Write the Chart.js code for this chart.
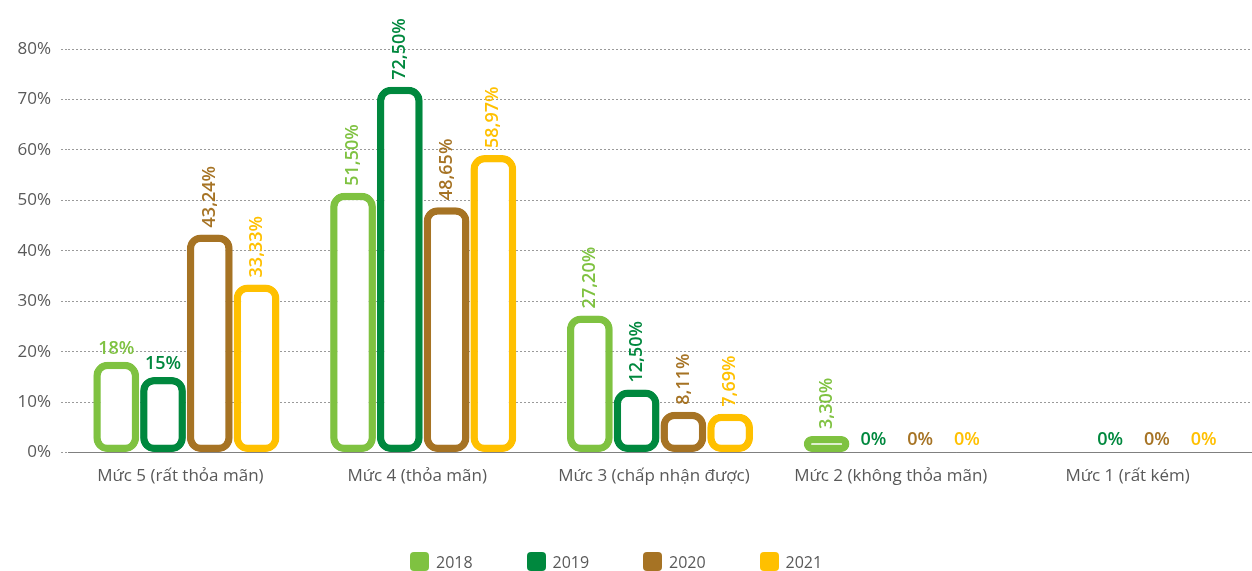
<!DOCTYPE html>
<html>
<head>
<meta charset="utf-8">
<script src="https://cdn.jsdelivr.net/npm/chart.js@4.4.1/dist/chart.umd.min.js"></script>
<style>
  html, body { margin: 0; padding: 0; background: #fff; }
  #wrap { position: relative; width: 1252px; height: 571px; }
  #legend { position: absolute; left: 410px; top: 552px; display: flex; font: 16px 'Open Sans', sans-serif; color: #595959; }
  .item { display: flex; align-items: center; width: 116.5px; height: 19px; }
  .box { width: 19px; height: 19px; border-radius: 4px; margin-right: 7px; }
</style>
</head>
<body>
<div id="wrap">
  <canvas id="chart" width="1252" height="571"></canvas>
  <div id="legend"></div>
</div>
<script>
// --- data ---
const categories = ['Mức 5 (rất thỏa mãn)', 'Mức 4 (thỏa mãn)', 'Mức 3 (chấp nhận được)', 'Mức 2 (không thỏa mãn)', 'Mức 1 (rất kém)'];
const years = ['2018', '2019', '2020', '2021'];
const values2018 = [18, 51.5, 27.2, 3.3, null];
const values2019 = [15, 72.5, 12.5, 0, 0];
const values2020 = [43.24, 48.65, 8.11, 0, 0];
const values2021 = [33.33, 58.97, 7.69, 0, 0];
const yMax = 80;
const yStep = 10;

const colors = ['#7fc241', '#00883e', '#a67324', '#ffc000'];
const seriesValues = [values2018, values2019, values2020, values2021];

Chart.defaults.font.family = "'Open Sans', sans-serif";
Chart.defaults.font.size = 17;
Chart.defaults.color = '#595959';

// value labels above bars (decimals rotated, whole numbers flat)
const valueLabels = {
  id: 'valueLabels',
  afterDatasetsDraw(chart) {
    const ctx = chart.ctx;
    chart.data.datasets.forEach((ds, i) => {
      chart.getDatasetMeta(i).data.forEach((bar, j) => {
        const v = ds.data[j];
        if (v === null || v === undefined) return;
        ctx.save();
        ctx.fillStyle = colors[i];
        ctx.font = '600 18px "Open Sans", sans-serif';
        if (Number.isInteger(v)) {
          ctx.textAlign = 'center';
          ctx.textBaseline = 'alphabetic';
          ctx.fillText(v + '%', bar.x, bar.y - 8);
        } else {
          ctx.translate(bar.x, bar.y - 7);
          ctx.rotate(-Math.PI / 2);
          ctx.textAlign = 'left';
          ctx.textBaseline = 'middle';
          ctx.fillText(v.toFixed(2).replace('.', ',') + '%', 0, 0);
        }
        ctx.restore();
      });
    });
  }
};

new Chart(document.getElementById('chart'), {
  type: 'bar',
  data: {
    labels: categories,
    datasets: years.map((y, i) => ({
      label: y,
      data: seriesValues[i],
      backgroundColor: '#ffffff',
      borderColor: colors[i],
      borderWidth: 7.5,
      borderRadius: 14,
      borderSkipped: false,
      categoryPercentage: 0.79,
      barPercentage: 0.98
    }))
  },
  options: {
    responsive: false,
    devicePixelRatio: 1,
    animation: false,
    layout: { padding: { left: 0, right: -6, top: 49, bottom: 72 } },
    plugins: {
      legend: { display: false },
      tooltip: { enabled: false }
    },
    scales: {
      x: {
        grid: { display: false, drawTicks: false },
        border: { display: true, color: '#808080', width: 1 },
        ticks: { padding: 13, labelOffset: -6, maxRotation: 0, autoSkip: false }
      },
      y: {
        min: 0,
        max: yMax,
        afterFit(scale) { scale.width = 68; },
        grid: {
          color: '#9a9a9a',
          lineWidth: 1,
          drawTicks: true,
          tickLength: 7,
          tickBorderDash: [2, 2]
        },
        border: { display: false, dash: [2, 2] },
        ticks: {
          stepSize: yStep,
          padding: 10,
          callback: v => v + '%'
        }
      }
    }
  },
  plugins: [valueLabels]
});

// legend
const legend = document.getElementById('legend');
years.forEach((y, i) => {
  const item = document.createElement('div');
  item.className = 'item';
  item.innerHTML = '<span class="box" style="background:' + colors[i] + '"></span><span>' + y + '</span>';
  legend.appendChild(item);
});
</script>
</body>
</html>
